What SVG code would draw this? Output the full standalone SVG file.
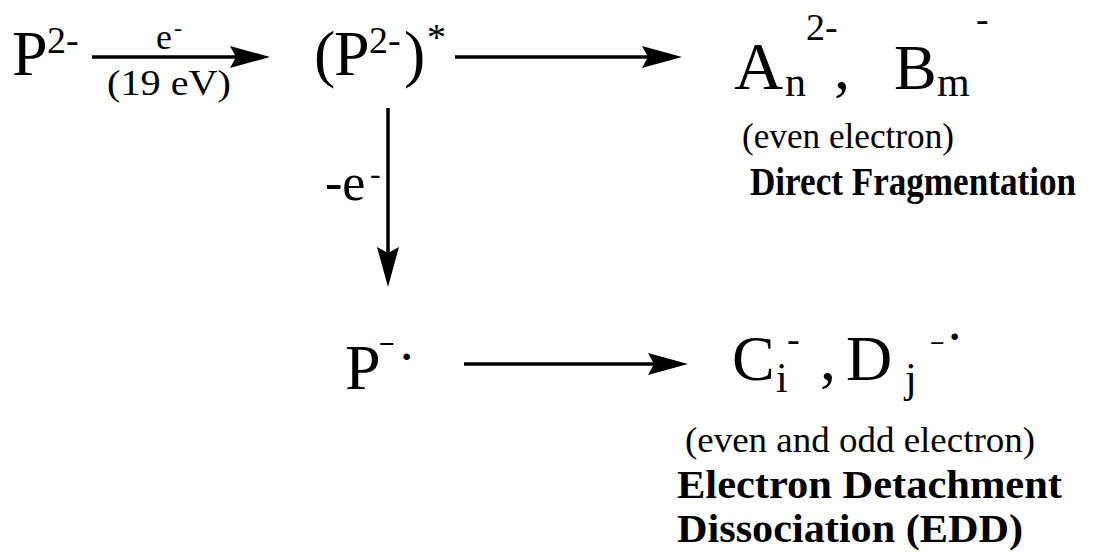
<svg xmlns="http://www.w3.org/2000/svg" width="1119" height="552" viewBox="0 0 1119 552">
<defs>
<style>
text{font-family:"Liberation Serif","Times New Roman",serif;fill:#000}
.big{font-size:64px}
.sup{font-size:38px}
.lbl{font-size:36px}
.bold{font-weight:bold;font-size:40px}
.conn line{stroke:#000;stroke-width:3.5;fill:none}
</style>
<marker id="ah" markerUnits="userSpaceOnUse" viewBox="0 0 40 22" markerWidth="40" markerHeight="22" refX="30" refY="11" orient="auto">
<path d="M0,0 L40,11 L0,22 L6,11 Z" fill="#000"/>
</marker>
</defs>
<rect width="1119" height="552" fill="#fff"/>

<g id="connectors" class="conn">
<line x1="92" y1="57" x2="260" y2="57" marker-end="url(#ah)"/>
<line x1="455" y1="57" x2="672" y2="57" marker-end="url(#ah)"/>
<line x1="388" y1="108" x2="388" y2="277" marker-end="url(#ah)"/>
<line x1="464" y1="364" x2="678" y2="364" marker-end="url(#ah)"/>
</g>

<g id="edge-labels">
<text class="lbl" x="156" y="49">e<tspan x="174" y="36" font-size="24">-</tspan></text>
<text class="lbl" x="107" y="95" textLength="124" lengthAdjust="spacingAndGlyphs">(19 eV)</text>
<text font-size="52" x="325" y="200">-e<tspan x="370" y="184" font-size="32">-</tspan></text>
</g>

<g id="node-P2">
<text class="big" x="12" y="75">P<tspan class="sup" x="47" y="53">2-</tspan></text>
</g>

<g id="node-P2-excited">
<text class="big" x="314" y="75">(<tspan x="334">P</tspan><tspan class="sup" x="369" y="53">2-</tspan><tspan x="404" y="75">)</tspan><tspan class="sup" x="427" y="50">*</tspan></text>
</g>

<g id="node-direct-products">
<text class="big" x="734" y="89"><tspan font-size="68">A</tspan><tspan font-size="42" x="785" y="96">n</tspan><tspan class="sup" x="806" y="40">2-</tspan><tspan x="834" y="89">,</tspan><tspan x="894" y="89">B</tspan><tspan font-size="42" x="937" y="96">m</tspan><tspan class="sup" x="976" y="32">-</tspan></text>
<text class="lbl" x="742" y="148" textLength="212" lengthAdjust="spacingAndGlyphs">(even electron)</text>
<text class="bold" x="750" y="195" font-size="36" textLength="326" lengthAdjust="spacingAndGlyphs">Direct Fragmentation</text>
</g>

<g id="node-P-radical">
<text class="big" x="345" y="389">P<tspan x="379" y="353" font-size="28" font-weight="bold">−</tspan><tspan x="400" y="370" font-size="40" font-weight="bold">·</tspan></text>
</g>

<g id="node-EDD-products">
<text class="big" x="732" y="380">C<tspan font-size="42" x="776" y="392">i</tspan><tspan class="sup" x="787" y="352">-</tspan><tspan x="820" y="380">,</tspan><tspan x="846" y="380">D</tspan><tspan font-size="42" x="905" y="392">j</tspan><tspan x="930" y="352" font-size="26" font-weight="bold">−</tspan><tspan x="948" y="350" font-size="40" font-weight="bold">·</tspan></text>
<text class="lbl" x="685" y="452" font-size="37" textLength="350" lengthAdjust="spacingAndGlyphs">(even and odd electron)</text>
<text class="bold" x="677" y="498" textLength="385" lengthAdjust="spacingAndGlyphs">Electron Detachment</text>
<text class="bold" x="677" y="542" textLength="346" lengthAdjust="spacingAndGlyphs">Dissociation (EDD)</text>
</g>
</svg>
